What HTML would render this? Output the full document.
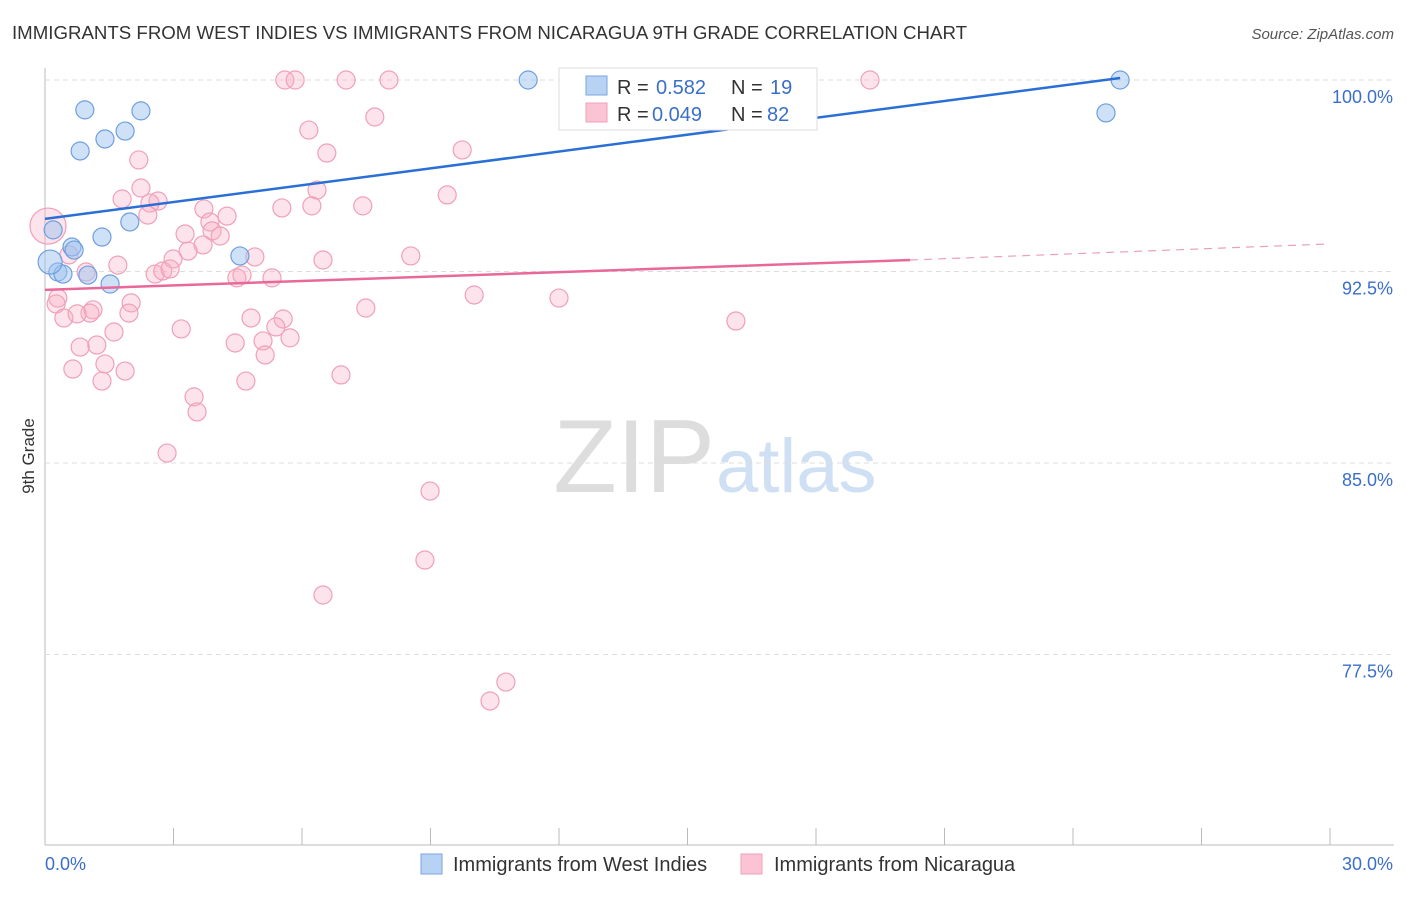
<!DOCTYPE html>
<html><head><meta charset="utf-8"><style>
body{margin:0;background:#fff;font-family:"Liberation Sans",sans-serif}
svg text{font-family:"Liberation Sans",sans-serif}
</style></head><body>
<svg id="c" width="1406" height="892">
<text x="12" y="39" font-size="18" fill="#333" textLength="955" lengthAdjust="spacingAndGlyphs">IMMIGRANTS FROM WEST INDIES VS IMMIGRANTS FROM NICARAGUA 9TH GRADE CORRELATION CHART</text>
<text x="1394" y="39" font-size="15" fill="#555" text-anchor="end" font-style="italic">Source: ZipAtlas.com</text>
<text x="715" y="492" font-size="104" fill="#ddd" text-anchor="end" font-family="Liberation Serif">ZIP</text>
<text x="716" y="492" font-size="76" fill="#cfe0f4">atlas</text>
<text transform="translate(34,456) rotate(-90)" font-size="17" fill="#333" text-anchor="middle">9th Grade</text>
<g id="grid"></g><g id="marks"></g>
<g>
<rect x="559" y="68" width="258" height="62" fill="#fff" stroke="#ddd"/>
<rect x="586" y="76" width="21" height="19" fill="#b8d2f4" stroke="#7aa6e0"/>
<rect x="586" y="103" width="21" height="19" fill="#fac4d4" stroke="#f0a0b8"/>
<text y="94" font-size="20" fill="#333"><tspan x="617">R =</tspan><tspan x="656" fill="#3a6fc8">0.582</tspan><tspan x="731">N =</tspan><tspan x="770" fill="#3a6fc8">19</tspan></text>
<text y="121" font-size="20" fill="#333"><tspan x="617">R =</tspan><tspan x="652" fill="#3a6fc8">0.049</tspan><tspan x="731">N =</tspan><tspan x="767" fill="#3a6fc8">82</tspan></text>
</g>
<g>
<rect x="421" y="854" width="21" height="20" fill="#b8d2f4" stroke="#7aa6e0"/>
<text x="453" y="871" font-size="20" fill="#333">Immigrants from West Indies</text>
<rect x="741" y="854" width="21" height="20" fill="#fac4d4" stroke="#f0a0b8"/>
<text x="774" y="871" font-size="20" fill="#333">Immigrants from Nicaragua</text>
</g>
</svg>
<script>
const xTicks=[0,3,6,9,12,15,18,21,24,27,30];
const yTicks=[100,92.5,85,77.5];
const yTickLabels=["100.0%","92.5%","85.0%","77.5%"];
const blueX=[0.93,2.24,1.87,1.40,0.82,1.98,1.33,0.19,0.63,0.68,0.30,0.42,1.00,1.52,4.55,11.28,25.10,24.77,0.12];
const blueY=[98.83,98.79,98.00,97.69,97.22,94.44,93.85,94.13,93.46,93.34,92.48,92.40,92.36,92.01,93.11,100,100,98.71,92.87];
const pinkX=[5.60,5.84,7.03,8.03,19.26,7.70,6.16,6.58,9.74,2.19,2.24,1.80,2.64,2.45,2.40,6.35,5.53,6.23,7.42,9.39,3.71,4.25,3.85,3.90,3.27,4.09,3.69,3.34,2.99,0.07,0.56,1.70,2.57,2.75,2.92,4.48,4.60,5.30,4.90,6.49,8.54,0.96,0.30,0.26,1.12,1.05,0.44,0.75,2.01,1.96,10.02,12.00,7.49,4.81,5.56,5.39,3.18,5.72,16.13,1.61,1.21,0.82,4.44,5.09,5.14,0.65,1.87,1.33,1.40,4.69,6.91,3.48,3.55,2.85,8.99,8.87,6.49,10.76,10.39];
const pinkY=[100,100,100,100,100,98.55,98.04,97.14,97.26,96.87,95.77,95.34,95.26,95.18,94.71,95.69,94.99,95.07,95.07,95.50,94.95,94.67,94.44,94.09,93.97,93.89,93.54,93.30,92.99,94.28,93.15,92.75,92.40,92.52,92.60,92.25,92.36,92.25,93.07,92.95,93.11,92.48,91.46,91.23,91.00,90.87,90.68,90.84,91.27,90.87,91.58,91.46,91.07,90.68,90.64,90.33,90.25,89.90,90.56,90.13,89.62,89.54,89.70,89.78,89.23,88.68,88.60,88.21,88.88,88.21,88.45,87.59,87.00,85.39,83.90,81.20,79.83,76.42,75.68];
const blueTrend=[[0,94.56],[25.1,100.08]];
const pinkTrend=[[0,91.78],[20.2,92.95],[30,93.58]];
const X=v=>45+v/30*1285, Y=v=>80+(100-v)/7.5*191.5;
const NS="http://www.w3.org/2000/svg";
function mk(t,a,p){const e=document.createElementNS(NS,t);for(const k in a)e.setAttribute(k,a[k]);p.appendChild(e);return e;}
const g=document.getElementById('grid'),m=document.getElementById('marks');
let ax=mk('line',{x1:45,y1:68,x2:45,y2:845,stroke:'#bbb'},g);

let bx=mk('line',{x1:45,y1:845,x2:1394,y2:845,stroke:'#bbb'},g);

yTicks.forEach((v,i)=>{
 let l=mk('line',{x1:45,x2:1394,y1:Y(v),y2:Y(v),stroke:'#ddd','stroke-dasharray':'5,4'},g);
 
 let t=mk('text',{x:1393,y:Y(v)+23,'font-size':18,fill:'#3a6fc8','text-anchor':'end'},g);t.textContent=yTickLabels[i];
 
});
xTicks.forEach(v=>{let l=mk('line',{x1:X(v),x2:X(v),y1:828,y2:845,stroke:'#bbb'},g);
 });
let t0=mk('text',{x:45,y:870,'font-size':18,fill:'#3a6fc8'},g);t0.textContent='0.0%';

let t1=mk('text',{x:1393,y:870,'font-size':18,fill:'#3a6fc8','text-anchor':'end'},g);t1.textContent='30.0%';

pinkX.forEach((v,i)=>{let c=mk('circle',{cx:X(v),cy:Y(pinkY[i]),r:i==29?18:9,fill:'rgba(248,175,198,0.35)',stroke:'#f0a0b8','stroke-width':1.2},m);
 });
blueX.forEach((v,i)=>{let c=mk('circle',{cx:X(v),cy:Y(blueY[i]),r:i==18?12:9,fill:'rgba(160,196,240,0.5)',stroke:'#6f9fe0','stroke-width':1.2},m);
 });
let bl=mk('line',{x1:X(blueTrend[0][0]),y1:Y(blueTrend[0][1]),x2:X(blueTrend[1][0]),y2:Y(blueTrend[1][1]),stroke:'#2a6fd6','stroke-width':2.5},m);

let pl=mk('line',{x1:X(pinkTrend[0][0]),y1:Y(pinkTrend[0][1]),x2:X(pinkTrend[1][0]),y2:Y(pinkTrend[1][1]),stroke:'#e8689a','stroke-width':2.5},m);

let pd=mk('line',{x1:X(pinkTrend[1][0]),y1:Y(pinkTrend[1][1]),x2:X(pinkTrend[2][0]),y2:Y(pinkTrend[2][1]),stroke:'#eaa0bb','stroke-width':1.2,'stroke-dasharray':'8,6'},m);

</script>
</body></html>
